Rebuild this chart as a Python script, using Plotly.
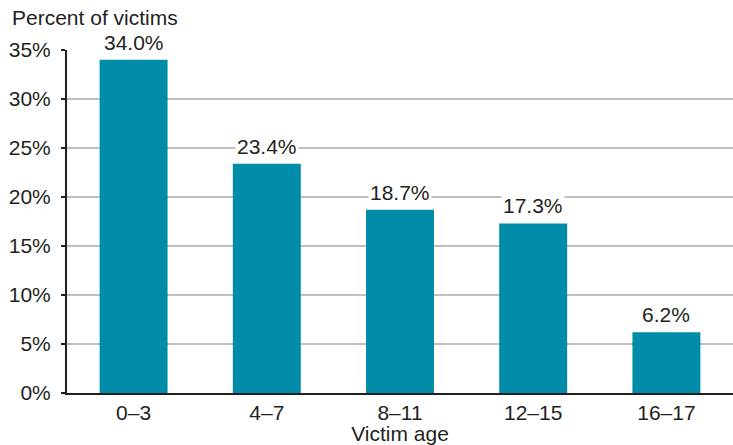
import plotly.graph_objects as go

# Victim age groups and share of victims (percent)
age_groups = ["0–3", "4–7", "8–11", "12–15", "16–17"]
percent_victims = [34.0, 23.4, 18.7, 17.3, 6.2]
y_ticks = [0, 5, 10, 15, 20, 25, 30, 35]
y_tick_labels = [f"{v}%" for v in y_ticks]

BAR = "#008ba8"
INK = "#231f20"
GRID = "#bfbfbf"
FONT = "Liberation Sans, Arial, sans-serif"
FS = 21

fig = go.Figure()
fig.add_trace(go.Bar(
    x=age_groups,
    y=percent_victims,
    marker=dict(color=BAR, line=dict(width=0)),
    hoverinfo="skip",
))

# value labels above bars, on a white box that hides the gridlines behind them
for cat, val in zip(age_groups, percent_victims):
    fig.add_annotation(
        x=cat, y=val, xref="x", yref="y",
        text=f"{val:.1f}%", showarrow=False,
        yanchor="bottom", yshift=4,
        bgcolor="white", borderpad=1,
        font=dict(family=FONT, size=FS, color=INK),
    )

fig.update_layout(
    width=733, height=445,
    margin=dict(l=67, r=0, t=50, b=52),
    paper_bgcolor="white", plot_bgcolor="white",
    bargap=0.49,
    showlegend=False,
    font=dict(family=FONT, size=FS, color=INK),
    title=dict(
        text="Percent of victims",
        xref="container", yref="container",
        x=12 / 733, xanchor="left",
        y=1 - 18 / 445, yanchor="middle",
        font=dict(family=FONT, size=FS, color=INK),
        pad=dict(l=0, r=0, t=0, b=0),
    ),
    xaxis=dict(
        range=[-0.5, 4.5],
        showline=True, linecolor=INK, linewidth=2,
        ticks="", showgrid=False,
        tickfont=dict(family=FONT, size=FS, color=INK),
        title=dict(text="Victim age", standoff=0,
                   font=dict(family=FONT, size=FS, color=INK)),
    ),
    yaxis=dict(
        range=[0, 35],
        tickvals=y_ticks, ticktext=y_tick_labels,
        showline=True, linecolor=INK, linewidth=2,
        ticks="outside", ticklen=4, tickwidth=1.5, tickcolor=INK,
        showgrid=True, gridcolor=GRID, gridwidth=1.5,
        zeroline=False,
        ticklabelstandoff=6,
        tickfont=dict(family=FONT, size=FS, color=INK),
    ),
)

fig.write_html("out.html")
